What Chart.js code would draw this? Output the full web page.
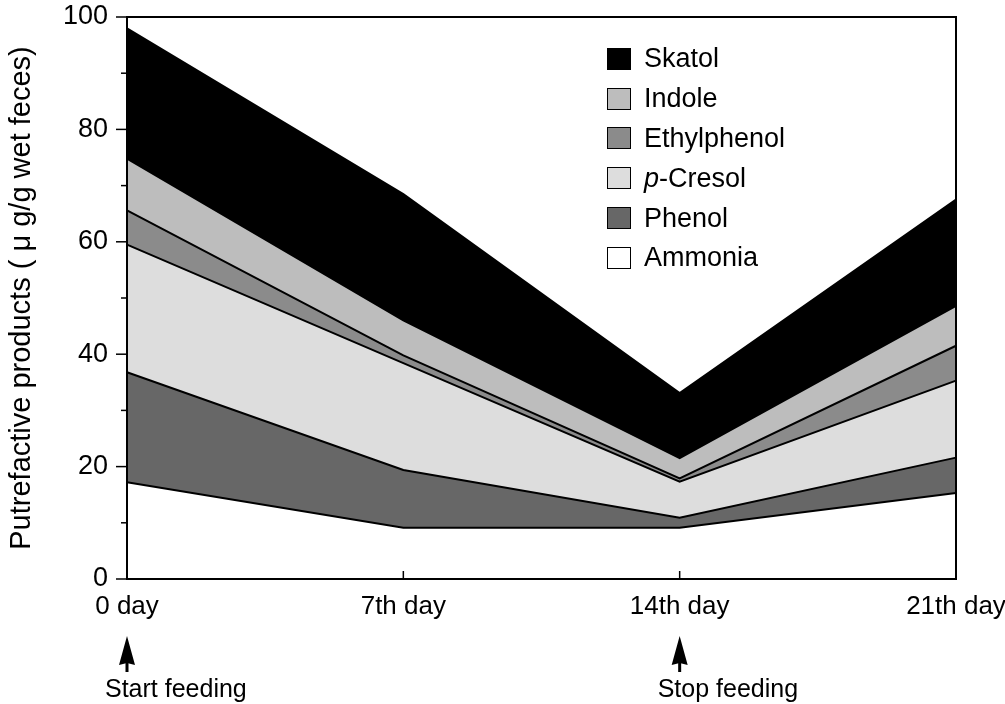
<!DOCTYPE html>
<html>
<head>
<meta charset="utf-8">
<script src="https://cdn.jsdelivr.net/npm/chart.js@4/dist/chart.umd.min.js"></script>
<style>
  html, body { margin: 0; padding: 0; background: #fff; overflow: hidden; }
  #wrap { position: relative; width: 1005px; height: 704px; }
  #legend { position: absolute; left: 607px; top: 39px; font-family: 'Liberation Sans', Arial, Helvetica, sans-serif; font-size: 27px; color: #000; }
  .row { height: 39.8px; display: flex; align-items: center; }
  .box { width: 24px; height: 22px; border: 1.5px solid #000; box-sizing: border-box; margin-right: 13px; }
</style>
</head>
<body>
<div id="wrap">
  <canvas id="chart" width="1005" height="704"></canvas>
  <div id="legend"></div>
</div>
<script>
// days on the x axis
const days = ['0 day', '7th day', '14th day', '21th day'];
// notes under the axis (arrows)
const notes = ['Start feeding', '', 'Stop feeding', ''];

// amount of each product per layer (stacked bottom to top), µg/g wet feces
const ammonia     = [17.2, 9.1, 9.1, 15.3];
const phenol      = [19.6, 10.3, 1.8, 6.3];
const pCresol     = [22.7, 19.0, 6.4, 13.7];
const ethylphenol = [6.1, 1.4, 0.6, 6.2];
const indole      = [9.2, 6.2, 3.6, 7.1];
const skatol      = [23.2, 22.5, 11.6, 18.9];

const yTicks = [0, 10, 20, 30, 40, 50, 60, 70, 80, 90, 100];

const layers = [
  { name: 'Ammonia', html: 'Ammonia', data: ammonia, color: '#ffffff' },
  { name: 'Phenol', html: 'Phenol', data: phenol, color: '#676767' },
  { name: 'p-Cresol', html: '<i>p</i>-Cresol', data: pCresol, color: '#dddddd' },
  { name: 'Ethylphenol', html: 'Ethylphenol', data: ethylphenol, color: '#8b8b8b' },
  { name: 'Indole', html: 'Indole', data: indole, color: '#bdbdbd' },
  { name: 'Skatol', html: 'Skatol', data: skatol, color: '#000000' }
];

const FONT = "'Liberation Sans', Arial, Helvetica, sans-serif";

// box, tick marks and feeding arrows
const decor = {
  id: 'decor',
  afterDraw(chart) {
    const ctx = chart.ctx;
    const a = chart.chartArea;
    const x = chart.scales.x, y = chart.scales.y;
    ctx.save();
    ctx.strokeStyle = '#000';
    ctx.lineWidth = 2;
    ctx.strokeRect(a.left, a.top, a.right - a.left, a.bottom - a.top);
    // y ticks, long on labelled values
    ctx.lineWidth = 1.5;
    yTicks.forEach(v => {
      const py = y.getPixelForValue(v);
      const len = v % 20 === 0 ? 11 : 6;
      ctx.beginPath();
      ctx.moveTo(a.left - len, py);
      ctx.lineTo(a.left, py);
      ctx.stroke();
    });
    // inner x ticks
    for (let i = 1; i < days.length - 1; i++) {
      const px = x.getPixelForValue(i);
      ctx.beginPath();
      ctx.moveTo(px, a.bottom);
      ctx.lineTo(px, a.bottom - 8);
      ctx.stroke();
    }
    // arrows + notes
    ctx.fillStyle = '#000';
    ctx.font = '25px ' + FONT;
    ctx.textBaseline = 'middle';
    notes.forEach((t, i) => {
      if (!t) return;
      const px = x.getPixelForValue(i);
      const top = a.bottom + 57;
      ctx.beginPath();
      ctx.moveTo(px, top);
      ctx.lineTo(px + 8, top + 29);
      ctx.lineTo(px, top + 27);
      ctx.lineTo(px - 8, top + 29);
      ctx.closePath();
      ctx.fill();
      ctx.fillRect(px - 1.5, top + 24, 3, 12);
      ctx.textAlign = 'left';
      ctx.fillText(t, px - 22, a.bottom + 111);
    });
    ctx.restore();
  }
};

new Chart(document.getElementById('chart'), {
  type: 'line',
  data: {
    labels: days,
    datasets: layers.map((l, i) => ({
      label: l.name,
      data: l.data,
      backgroundColor: l.color,
      borderColor: '#000',
      borderWidth: 2,
      pointRadius: 0,
      tension: 0,
      fill: i === 0 ? 'origin' : '-1'
    }))
  },
  options: {
    responsive: false,
    animation: false,
    layout: { padding: { top: 17, right: 49, left: 0, bottom: 0 } },
    plugins: { legend: { display: false }, tooltip: { enabled: false } },
    scales: {
      x: {
        grid: { display: false },
        border: { display: false },
        ticks: { color: '#000', font: { family: FONT, size: 26 }, padding: 4, maxRotation: 0, autoSkip: false },
        afterFit(s) { s.height = 125; s.paddingLeft = 0; s.paddingRight = 0; }
      },
      y: {
        stacked: true,
        min: 0,
        max: 100,
        grid: { display: false },
        border: { display: false },
        ticks: {
          stepSize: 10,
          color: '#000',
          padding: 11,
          font: { family: FONT, size: 27 },
          callback: v => (v % 20 === 0 ? v : '')
        },
        title: {
          display: true,
          text: 'Putrefactive products ( \u03bc g/g wet feces)',
          color: '#000',
          font: { family: FONT, size: 29 },
          padding: { top: 5, bottom: 0 }
        },
        afterFit(s) { s.width = 127; s.paddingTop = 0; s.paddingBottom = 0; }
      }
    }
  },
  plugins: [decor]
});

// legend, top layer first
const legend = document.getElementById('legend');
layers.slice().reverse().forEach(l => {
  const row = document.createElement('div');
  row.className = 'row';
  row.innerHTML = '<span class="box" style="background:' + l.color + '"></span><span>' + l.html + '</span>';
  legend.appendChild(row);
});
</script>
</body>
</html>
